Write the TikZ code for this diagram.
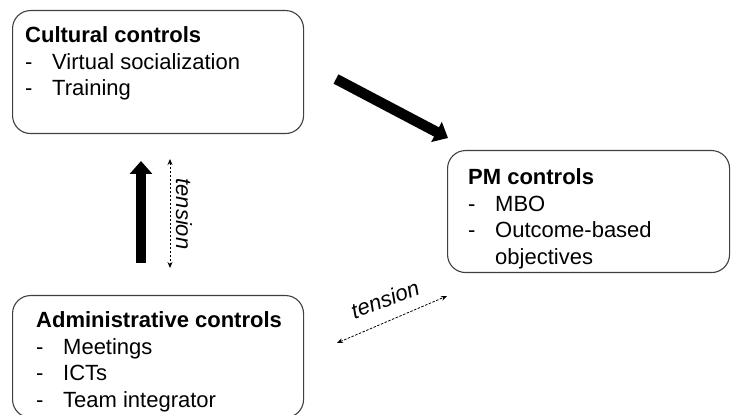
\documentclass[tikz,border=0pt]{standalone}
\usepackage{fontspec}
\setmainfont{Liberation Sans}
\usepackage{tikz}
\usetikzlibrary{arrows.meta}
\usetikzlibrary{calc}

\newcommand{\itm}[1]{\makebox[27pt][l]{-}#1}
\newcommand{\lst}[1]{\begin{tabular}[t]{@{}l@{}}#1\end{tabular}}

\begin{document}
\begin{tikzpicture}[x=1pt,y=1pt,
    box/.style={draw=black!75, line width=1.1pt, rounded corners=18pt, inner sep=0pt, anchor=north west},
    txt/.style={anchor=base west, inner sep=0pt, font=\fontsize{22}{26.5}\selectfont},
    big/.style={line width=10.5pt, -{Triangle[width=22pt,length=13pt]}},
    tens/.style={line width=0.8pt, dash pattern=on 2.5pt off 1.5pt, {Stealth[length=6pt,width=5pt]}-{Stealth[length=6pt,width=5pt]}},
    tlab/.style={inner sep=0pt, font=\fontsize{22}{26}\selectfont\itshape}]
            \useasboundingbox (0,0) rectangle (731,415);

            \node[box, minimum width=291pt, minimum height=123pt] (cult) at (12,405) {};
            \node[box, minimum width=282pt, minimum height=122pt] (pm) at (447,265) {};
            \node[box, minimum width=291pt, minimum height=122pt] (adm) at (12,120) {};

            \node[txt] (cultTxt) at (25,372) {\lst{\textbf{Cultural controls}\\ \itm{Virtual socialization}\\ \itm{Training}}};
            \node[txt] (pmTxt) at (468,230) {\lst{\textbf{PM controls}\\ \itm{MBO}\\ \itm{Outcome-based}\\ \hspace{27pt}objectives}};
            \node[txt] (admTxt) at (36,87) {\lst{\textbf{Administrative controls}\\ \itm{Meetings}\\ \itm{ICTs}\\ \itm{Team integrator}}};

            \coordinate (A) at (141,152);
            \coordinate (B) at (141,254);
            \coordinate (C) at (336,336);
            \coordinate (D) at (448,277);
            \coordinate (E) at (170,256);
            \coordinate (F) at (170,147);
            \coordinate (G) at (337,72);
            \coordinate (H) at (447,119);

            \draw[big] (A) -- (B);
            \draw[big] (C) -- (D);
            \draw[tens] (E) -- (F);
            \draw[tens] (G) -- (H);

            \node[tlab, rotate=-90] (tensV) at (184,201) {tension};
            \node[tlab, rotate=21] (tensD) at (385,116) {tension};
        \end{tikzpicture}
\end{document}
